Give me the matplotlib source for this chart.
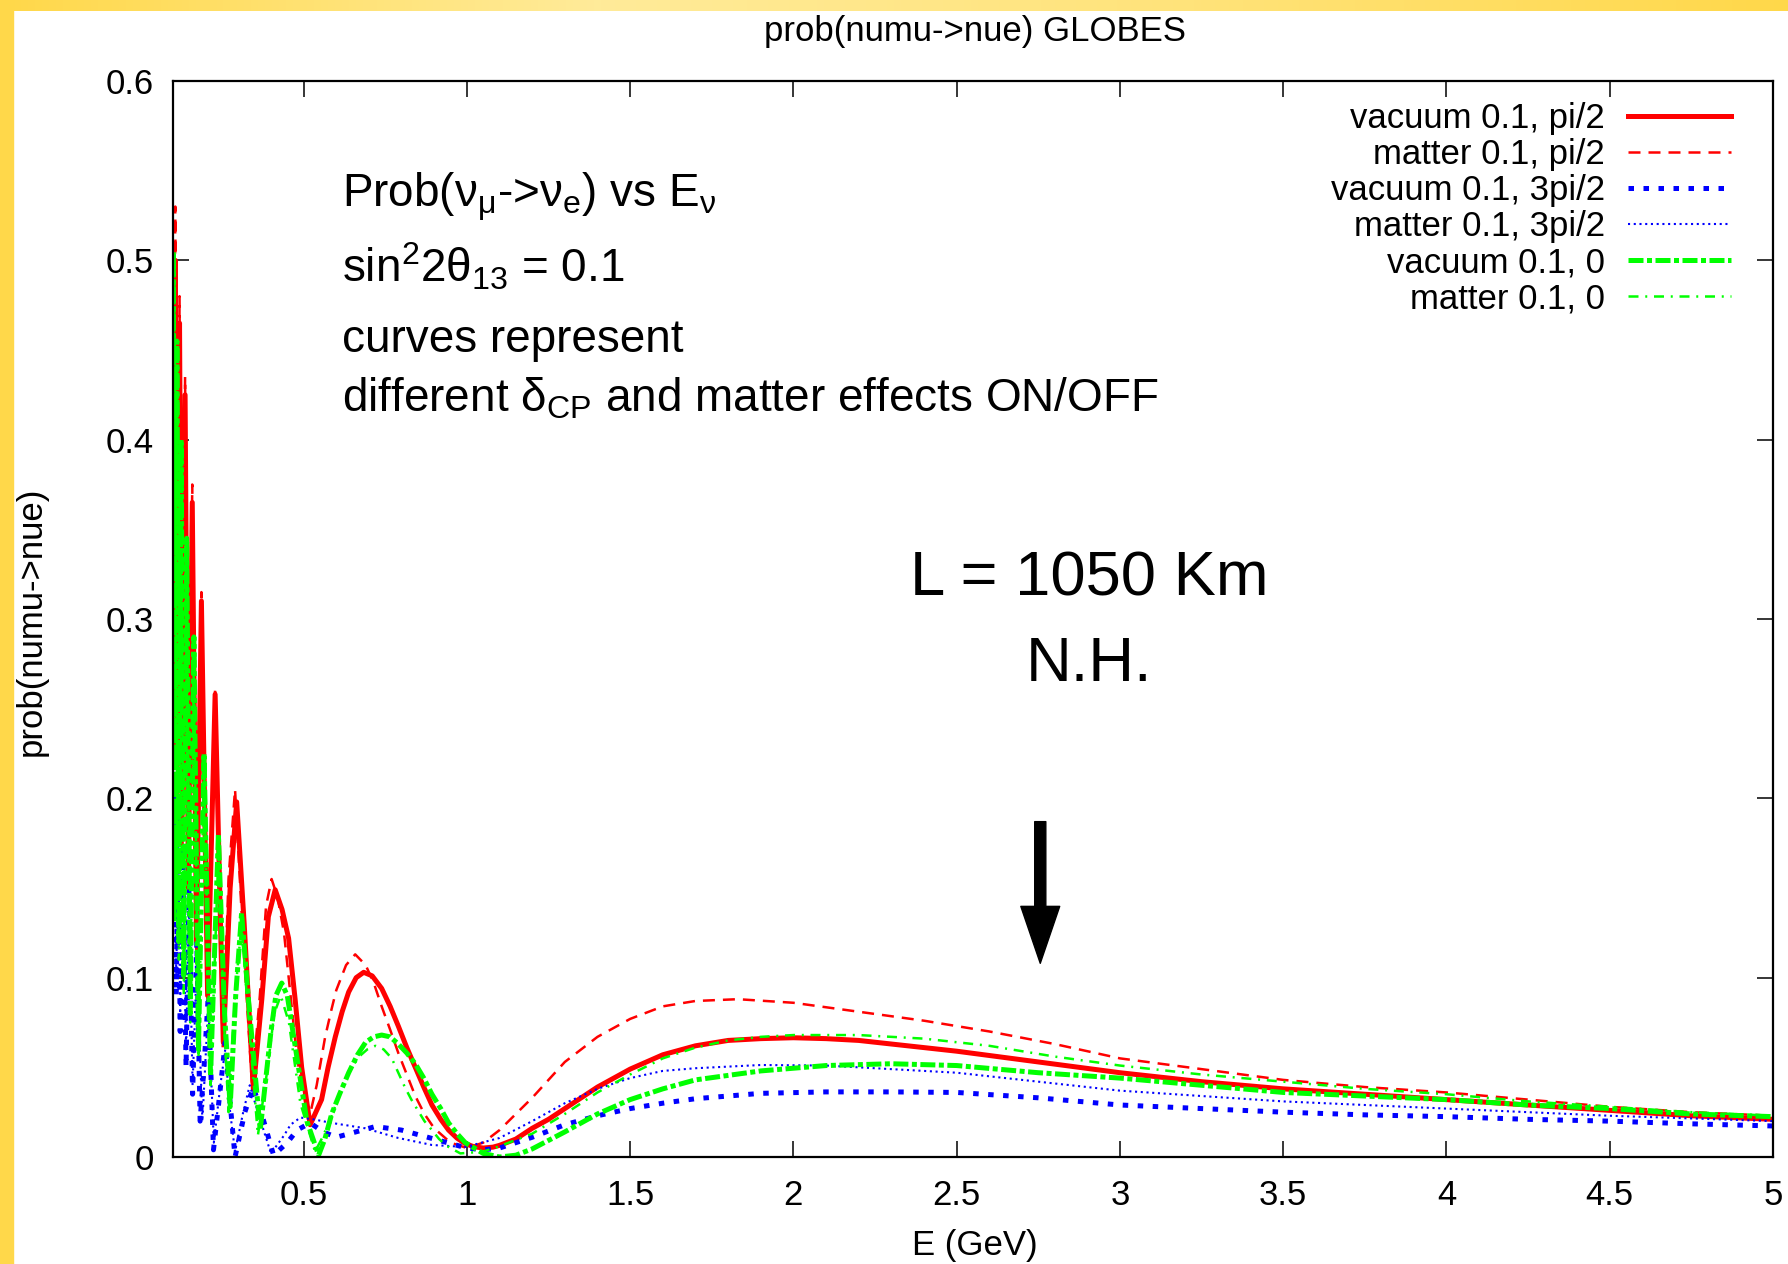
import matplotlib.pyplot as plt
import numpy as np
from matplotlib.colors import LinearSegmentedColormap
from matplotlib.patches import Rectangle

plt.rcParams['font.family'] = ['Liberation Sans', 'DejaVu Sans']
plt.rcParams['mathtext.fontset'] = 'custom'
plt.rcParams['mathtext.rm'] = 'Liberation Sans'
plt.rcParams['mathtext.it'] = 'Liberation Sans:italic'

# values (E in GeV, probability)
E_vac_pi2 = [0.100, 0.102, 0.107, 0.114, 0.120, 0.128, 0.137, 0.147, 0.159, 0.172,
             0.187, 0.206, 0.229, 0.254, 0.275, 0.295, 0.318, 0.346, 0.372, 0.392,
             0.413, 0.434, 0.454, 0.474, 0.494, 0.520, 0.555, 0.575, 0.597, 0.618,
             0.638, 0.661, 0.684, 0.710, 0.739, 0.765, 0.790, 0.816, 0.842, 0.868,
             0.893, 0.920, 0.944, 0.970, 0.995, 1.02, 1.05, 1.08, 1.10, 1.15,
             1.20, 1.25, 1.30, 1.35, 1.40, 1.45, 1.50, 1.60, 1.70, 1.80,
             1.90, 2.00, 2.10, 2.20, 2.30, 2.50, 2.75, 3.00, 3.25, 3.50,
             3.75, 4.00, 4.25, 4.50, 4.75, 5.00]
P_vac_pi2 = [0.38, 0.26, 0.50, 0.23, 0.465, 0.19, 0.425, 0.15, 0.365, 0.12,
             0.31, 0.09, 0.258, 0.064, 0.15, 0.198, 0.13, 0.038, 0.088, 0.134,
             0.149, 0.138, 0.122, 0.088, 0.05, 0.018, 0.032, 0.05, 0.067, 0.081,
             0.092, 0.100, 0.103, 0.101, 0.094, 0.084, 0.073, 0.061, 0.05, 0.039,
             0.029, 0.021, 0.015, 0.0105, 0.0075, 0.0058, 0.005, 0.0055, 0.0065, 0.010,
             0.016, 0.021, 0.027, 0.033, 0.039, 0.044, 0.049, 0.057, 0.062, 0.065,
             0.066, 0.0665, 0.066, 0.065, 0.063, 0.059, 0.053, 0.047, 0.042, 0.038,
             0.035, 0.032, 0.029, 0.026, 0.023, 0.021]

E_mat_pi2 = [0.100, 0.102, 0.107, 0.114, 0.120, 0.128, 0.137, 0.147, 0.159, 0.172,
             0.187, 0.206, 0.229, 0.252, 0.270, 0.290, 0.312, 0.342, 0.366, 0.385,
             0.402, 0.420, 0.440, 0.460, 0.480, 0.515, 0.540, 0.566, 0.585, 0.600,
             0.630, 0.658, 0.690, 0.715, 0.739, 0.765, 0.790, 0.816, 0.842, 0.870,
             0.900, 0.950, 1.00, 1.05, 1.10, 1.15, 1.20, 1.25, 1.30, 1.40,
             1.50, 1.60, 1.70, 1.83, 2.00, 2.20, 2.40, 2.60, 2.80, 3.00,
             3.25, 3.50, 3.75, 4.00, 4.25, 4.50, 4.75, 5.00]
P_mat_pi2 = [0.36, 0.22, 0.53, 0.20, 0.48, 0.17, 0.435, 0.14, 0.375, 0.11,
             0.315, 0.085, 0.262, 0.06, 0.155, 0.205, 0.13, 0.04, 0.09, 0.14,
             0.155, 0.145, 0.125, 0.09, 0.055, 0.02, 0.04, 0.067, 0.082, 0.093,
             0.107, 0.113, 0.107, 0.097, 0.084, 0.071, 0.058, 0.046, 0.034, 0.024,
             0.016, 0.008, 0.005, 0.008, 0.015, 0.024, 0.033, 0.043, 0.053, 0.067,
             0.077, 0.084, 0.087, 0.088, 0.086, 0.081, 0.076, 0.070, 0.063, 0.055,
             0.049, 0.043, 0.039, 0.036, 0.032, 0.028, 0.025, 0.023]

E_vac_3pi2 = [0.100, 0.104, 0.110, 0.116, 0.122, 0.130, 0.140, 0.149, 0.160, 0.173,
              0.183, 0.195, 0.208, 0.224, 0.240, 0.260, 0.275, 0.290, 0.320, 0.346,
              0.370, 0.408, 0.450, 0.480, 0.520, 0.560, 0.600, 0.660, 0.720, 0.800,
              0.900, 1.00, 1.05, 1.10, 1.20, 1.30, 1.40, 1.50, 1.60, 1.70,
              1.90, 2.10, 2.30, 2.50, 2.75, 3.00, 3.25, 3.50, 3.75, 4.00,
              4.25, 4.50, 4.75, 5.00]
P_vac_3pi2 = [0.15, 0.22, 0.09, 0.19, 0.07, 0.17, 0.05, 0.15, 0.035, 0.12,
              0.02, 0.05, 0.09, 0.004, 0.03, 0.064, 0.03, 0.0, 0.025, 0.039,
              0.025, 0.001, 0.008, 0.015, 0.019, 0.014, 0.011, 0.014, 0.017, 0.015,
              0.01, 0.005, 0.004, 0.005, 0.011, 0.018, 0.023, 0.027, 0.030, 0.0325,
              0.0355, 0.0363, 0.0363, 0.036, 0.033, 0.029, 0.027, 0.025, 0.0235, 0.0225,
              0.021, 0.020, 0.0185, 0.0173]

E_mat_3pi2 = [0.100, 0.104, 0.110, 0.116, 0.122, 0.130, 0.140, 0.149, 0.160, 0.173,
              0.190, 0.208, 0.225, 0.245, 0.260, 0.275, 0.290, 0.315, 0.335, 0.360,
              0.400, 0.440, 0.460, 0.490, 0.530, 0.586, 0.689, 0.790, 0.893, 0.995,
              1.10, 1.20, 1.30, 1.40, 1.50, 1.60, 1.70, 1.90, 2.10, 2.30,
              2.50, 2.75, 3.00, 3.25, 3.50, 3.75, 4.00, 4.25, 4.50, 4.75, 5.00]
P_mat_3pi2 = [0.14, 0.21, 0.10, 0.18, 0.08, 0.16, 0.06, 0.14, 0.04, 0.11,
              0.02, 0.085, 0.008, 0.04, 0.06, 0.025, 0.003, 0.025, 0.04, 0.025,
              0.002, 0.012, 0.018, 0.022, 0.021, 0.019, 0.016, 0.0106, 0.0067, 0.0056,
              0.0106, 0.020, 0.030, 0.038, 0.044, 0.048, 0.0495, 0.0513, 0.051, 0.049,
              0.047, 0.042, 0.037, 0.034, 0.031, 0.029, 0.027, 0.025, 0.023, 0.0215, 0.020]

E_vac_0 = [0.100, 0.101, 0.106, 0.112, 0.118, 0.125, 0.133, 0.142, 0.153, 0.164,
           0.178, 0.195, 0.215, 0.239, 0.258, 0.275, 0.292, 0.310, 0.330, 0.367,
           0.400, 0.415, 0.433, 0.450, 0.480, 0.510, 0.546, 0.565, 0.586, 0.610,
           0.638, 0.665, 0.690, 0.715, 0.739, 0.765, 0.790, 0.816, 0.842, 0.868,
           0.893, 0.920, 0.944, 0.970, 0.995, 1.05, 1.10, 1.15, 1.20, 1.30,
           1.40, 1.50, 1.60, 1.70, 1.90, 2.10, 2.30, 2.50, 2.75, 3.00,
           3.25, 3.50, 3.75, 4.00, 4.25, 4.50, 4.75, 5.00]
P_vac_0 = [0.45, 0.505, 0.14, 0.455, 0.12, 0.40, 0.10, 0.345, 0.08, 0.29,
           0.06, 0.225, 0.045, 0.18, 0.08, 0.028, 0.09, 0.136, 0.09, 0.015,
           0.07, 0.09, 0.097, 0.09, 0.055, 0.02, 0.001, 0.01, 0.024, 0.035,
           0.047, 0.057, 0.064, 0.067, 0.068, 0.067, 0.063, 0.058, 0.052, 0.044,
           0.035, 0.027, 0.019, 0.013, 0.008, 0.002, 0.0, 0.001, 0.0045, 0.014,
           0.024, 0.032, 0.038, 0.043, 0.048, 0.051, 0.052, 0.051, 0.047, 0.044,
           0.040, 0.036, 0.034, 0.032, 0.029, 0.027, 0.024, 0.0225]

E_mat_0 = [0.100, 0.101, 0.106, 0.112, 0.118, 0.125, 0.133, 0.142, 0.153, 0.164,
           0.178, 0.195, 0.215, 0.240, 0.255, 0.270, 0.290, 0.310, 0.330, 0.360,
           0.390, 0.410, 0.430, 0.455, 0.490, 0.535, 0.555, 0.580, 0.600, 0.620,
           0.645, 0.670, 0.695, 0.720, 0.745, 0.770, 0.790, 0.810, 0.830, 0.850,
           0.870, 0.893, 0.915, 0.940, 0.980, 1.05, 1.10, 1.20, 1.30, 1.40,
           1.50, 1.60, 1.70, 1.80, 1.90, 2.00, 2.20, 2.40, 2.60, 2.80,
           3.00, 3.25, 3.50, 3.75, 4.00, 4.25, 4.50, 4.75, 5.00]
P_mat_0 = [0.40, 0.47, 0.13, 0.45, 0.11, 0.40, 0.09, 0.34, 0.075, 0.28,
           0.055, 0.22, 0.04, 0.175, 0.08, 0.025, 0.09, 0.13, 0.08, 0.012,
           0.05, 0.08, 0.09, 0.075, 0.03, 0.003, 0.01, 0.02, 0.03, 0.04,
           0.049, 0.056, 0.060, 0.062, 0.060, 0.055, 0.047, 0.039, 0.032, 0.026,
           0.020, 0.015, 0.010, 0.006, 0.002, 0.003, 0.006, 0.013, 0.024, 0.036,
           0.046, 0.055, 0.061, 0.065, 0.067, 0.068, 0.068, 0.066, 0.062, 0.056,
           0.051, 0.046, 0.042, 0.038, 0.035, 0.031, 0.028, 0.025, 0.023]

labels = ['vacuum 0.1, pi/2', 'matter 0.1, pi/2', 'vacuum 0.1, 3pi/2',
          'matter 0.1, 3pi/2', 'vacuum 0.1, 0', 'matter 0.1, 0']
x_ticks = [0.5, 1, 1.5, 2, 2.5, 3, 3.5, 4, 4.5, 5]
x_ticklabels = ['0.5', '1', '1.5', '2', '2.5', '3', '3.5', '4', '4.5', '5']
y_ticks = [0, 0.1, 0.2, 0.3, 0.4, 0.5, 0.6]
y_ticklabels = ['0', '0.1', '0.2', '0.3', '0.4', '0.5', '0.6']

W, H = 1788, 1264
fig = plt.figure(figsize=(W / 100, H / 100), dpi=100)
fig.patch.set_facecolor('white')

# yellow frame on the top and left edge
band = fig.add_axes([0, 1 - 11 / H, 1, 11 / H])
cmap = LinearSegmentedColormap.from_list('band', ['#FFD84A', '#FFEB99', '#FFE37A', '#FFD84A'])
band.imshow(np.linspace(0, 1, 256).reshape(1, -1), cmap=cmap, aspect='auto')
band.axis('off')
fig.patches.append(Rectangle((0, 0), 13 / W, 1, transform=fig.transFigure,
                             color='#FFD84A', zorder=0))

ax = fig.add_axes([173 / W, 1 - 1157 / H, 1600 / W, 1076 / H])

ax.plot(E_vac_pi2, P_vac_pi2, color='#FF0000', lw=3.6, label=labels[0])
ax.plot(E_mat_pi2, P_mat_pi2, color='#FF0000', lw=1.8, dashes=(4.8, 3.2), label=labels[1])
ax.plot(E_vac_3pi2, P_vac_3pi2, color='#0000FF', lw=3.6, dashes=(1.1, 1.9), label=labels[2])
ax.plot(E_mat_3pi2, P_mat_3pi2, color='#0000FF', lw=1.5, dashes=(1.0, 1.75), label=labels[3])
ax.plot(E_vac_0, P_vac_0, color='#00FF00', lw=3.6, dashes=(3, 0.7, 1, 0.7), label=labels[4])
ax.plot(E_mat_0, P_mat_0, color='#00FF00', lw=1.8, dashes=(4, 2.7, 0.8, 2.7), label=labels[5])

ax.set_xlim(0.1, 5)
ax.set_ylim(0, 0.6)
ax.set_xticks(x_ticks)
ax.set_xticklabels(x_ticklabels)
ax.set_yticks(y_ticks)
ax.set_yticklabels(y_ticklabels)
ax.tick_params(direction='in', length=11.5, width=1.1, top=True, right=True,
               labelsize=25)
ax.tick_params(axis='y', pad=14)
ax.tick_params(axis='x', pad=16)
for s in ax.spines.values():
    s.set_linewidth(1.6)

ax.legend(loc='upper right', bbox_to_anchor=(0.9737, 0.9808), frameon=False,
          markerfirst=False, fontsize=25, labelspacing=0.09, handlelength=2.97,
          handletextpad=0.66, borderpad=0, borderaxespad=0)

fig.text(975 / W, 1 - 31 / H, 'prob(numu->nue) GLOBES', ha='center', va='center', fontsize=25)
fig.text(975 / W, 1 - 1245 / H, 'E (GeV)', ha='center', va='center', fontsize=25)
fig.text(31 / W, 1 - 621 / H, 'prob(numu->nue)', ha='center', va='center',
         rotation=90, fontsize=25)

tx = 0.1056
ax.text(tx, 0.8824, r'Prob(ν$_{\mathrm{μ}}$->ν$_{\mathrm{e}}$) vs E$_{\mathrm{ν}}$',
        transform=ax.transAxes, fontsize=33, va='baseline')
ax.text(tx, 0.8123, r'sin$^{\mathrm{2}}$2θ$_{\mathrm{13}}$ = 0.1',
        transform=ax.transAxes, fontsize=33, va='baseline')
ax.text(tx, 0.7481, 'curves represent', transform=ax.transAxes, fontsize=33, va='baseline')
ax.text(tx, 0.6933, r'different δ$_{\mathrm{CP}}$ and matter effects ON/OFF',
        transform=ax.transAxes, fontsize=33, va='baseline')

ax.text(0.5725, 0.5214, 'L = 1050 Km', transform=ax.transAxes, fontsize=45.5,
        ha='center', va='baseline')
ax.text(0.5725, 0.4424, 'N.H.', transform=ax.transAxes, fontsize=45.5,
        ha='center', va='baseline')

ax.annotate('', xy=(2.756, 0.108), xytext=(2.756, 0.187),
            arrowprops=dict(width=8, headwidth=28, headlength=41, shrink=0,
                            color='black'))

fig.savefig('out.png', dpi=100)
